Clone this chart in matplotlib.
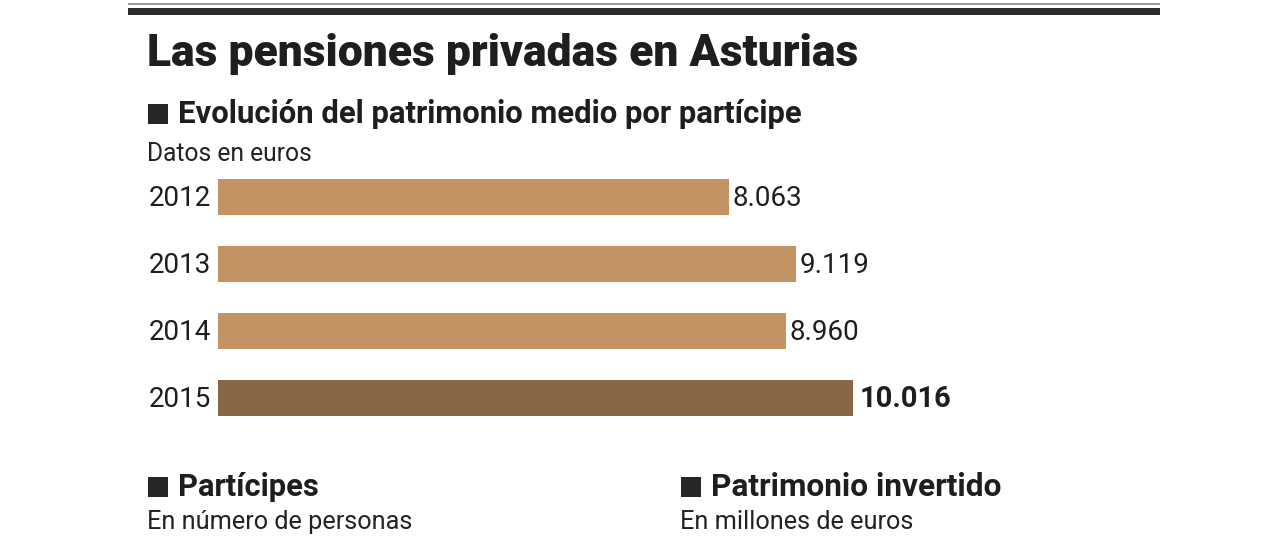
import matplotlib.pyplot as plt
from matplotlib.patches import Rectangle

# data
years = ['2012', '2013', '2014', '2015']
valores = [8063, 9119, 8960, 10016]
etiquetas = ['8.063', '9.119', '8.960', '10.016']

W, H = 1280, 548
fig = plt.figure(figsize=(W / 100, H / 100), dpi=100)
fig.patch.set_facecolor('white')


def fx(x):
    return x / W


def fy(y):
    return 1 - y / H


# top rules
fig.add_artist(Rectangle((fx(128), fy(5)), fx(1160) - fx(128), 2 / H, transform=fig.transFigure,
                         color='#9a9a9a', lw=0))
fig.add_artist(Rectangle((fx(128), fy(15)), fx(1160) - fx(128), 7 / H, transform=fig.transFigure,
                         color='#2b2b2b', lw=0))

fam = ['Roboto', 'DejaVu Sans']
fig.text(fx(147), fy(54), 'Las pensiones privadas en Asturias', fontsize=32, fontweight='heavy',
         family=fam, color='#1e1e1e', va='center', ha='left')


def square(x, y):
    fig.add_artist(Rectangle((fx(x), fy(y + 20)), 20 / W, 20 / H, transform=fig.transFigure,
                             color='#262626', lw=0))


square(148, 104)
fig.text(fx(178), fy(114), 'Evolución del patrimonio medio por partícipe', fontsize=22.4,
         fontweight='bold', family=fam, color='#1e1e1e', va='center', ha='left')
fig.text(fx(147), fy(154), 'Datos en euros', fontsize=17.7, family=fam,
         color='#222222', va='center', ha='left')

square(148, 477)
fig.text(fx(178), fy(487), 'Partícipes', fontsize=22.2, fontweight='bold', family=fam,
         color='#1e1e1e', va='center', ha='left')
fig.text(fx(147), fy(522), 'En número de personas', fontsize=18.2, family=fam,
         color='#222222', va='center', ha='left')

square(681, 477)
fig.text(fx(711), fy(487), 'Patrimonio invertido', fontsize=22.8, fontweight='bold', family=fam,
         color='#1e1e1e', va='center', ha='left')
fig.text(fx(680), fy(522), 'En millones de euros', fontsize=18.2, family=fam,
         color='#222222', va='center', ha='left')

# bar chart
ax = fig.add_axes([fx(218), fy(432), fx(1160) - fx(218), (432 - 165) / H])
colores = ['#c49363', '#c49363', '#c49363', '#876843']
pos = list(range(len(years)))
ax.barh(pos, valores, height=0.54, color=colores)
ax.set_xlim(0, 942 / 0.06338)
ax.set_ylim(3.507, -0.478)
ax.axis('off')

for i, (v, lab) in enumerate(zip(valores, etiquetas)):
    bold = i == len(valores) - 1
    ax.text(v + 60 if not bold else v + 110, i + 0.02, lab, fontsize=21 if bold else 20,
            fontweight='bold' if bold else 'normal', family=fam, color='#1e1e1e',
            va='center', ha='left')
    ax.text(-110, i + 0.02, years[i], fontsize=20, family=fam,
            color='#1e1e1e', va='center', ha='right')

fig.savefig('out.png', dpi=100)
